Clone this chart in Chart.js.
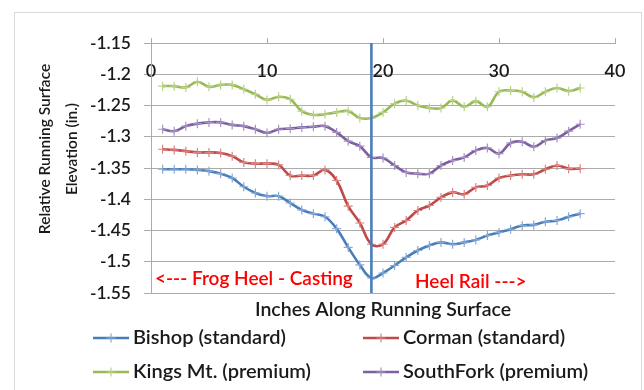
<!DOCTYPE html>
<html>
<head>
<meta charset="utf-8">
<script src="https://cdn.jsdelivr.net/npm/chart.js@4/dist/chart.umd.min.js"></script>
<style>
  html, body { margin: 0; padding: 0; background: #fff; }
  #wrap { position: relative; width: 644px; height: 390px; }
</style>
</head>
<body>
<div id="wrap"><canvas id="chart" width="644" height="390"></canvas></div>
<script>
// inches along running surface (one reading per inch)
var inches = [1, 2, 3, 4, 5, 6, 7, 8, 9, 10, 11, 12, 13, 14, 15, 16, 17, 18, 19,
              20, 21, 22, 23, 24, 25, 26, 27, 28, 29, 30, 31, 32, 33, 34, 35, 36, 37];

var bishop = [-1.352, -1.352, -1.352, -1.353, -1.355, -1.359, -1.366, -1.380, -1.390, -1.395,
              -1.395, -1.406, -1.417, -1.423, -1.428, -1.447, -1.477, -1.505, -1.526, -1.518,
              -1.506, -1.493, -1.482, -1.474, -1.469, -1.472, -1.469, -1.465, -1.458, -1.453,
              -1.448, -1.442, -1.441, -1.436, -1.434, -1.428, -1.423];

var corman = [-1.320, -1.321, -1.323, -1.325, -1.325, -1.326, -1.331, -1.341, -1.343, -1.343,
              -1.345, -1.362, -1.362, -1.362, -1.353, -1.370, -1.411, -1.438, -1.472, -1.472,
              -1.445, -1.434, -1.418, -1.410, -1.397, -1.389, -1.392, -1.381, -1.378, -1.366,
              -1.362, -1.360, -1.360, -1.352, -1.346, -1.351, -1.351];

var kingsMt = [-1.219, -1.219, -1.221, -1.212, -1.220, -1.217, -1.217, -1.224, -1.232, -1.241,
               -1.236, -1.240, -1.259, -1.265, -1.264, -1.261, -1.259, -1.270, -1.270, -1.261,
               -1.247, -1.242, -1.250, -1.254, -1.254, -1.242, -1.252, -1.243, -1.252, -1.228,
               -1.226, -1.228, -1.237, -1.228, -1.222, -1.227, -1.222];

var southFork = [-1.288, -1.291, -1.283, -1.279, -1.277, -1.277, -1.281, -1.283, -1.288, -1.294,
                 -1.288, -1.287, -1.285, -1.284, -1.283, -1.293, -1.307, -1.315, -1.333, -1.334,
                 -1.346, -1.357, -1.359, -1.359, -1.346, -1.338, -1.333, -1.322, -1.318, -1.327,
                 -1.310, -1.308, -1.316, -1.306, -1.302, -1.291, -1.280];

var seriesNames = ["Bishop (standard)", "Corman (standard)", "Kings Mt. (premium)", "SouthFork (premium)"];

// axes
var xMin = 0, xMax = 40, xStep = 10;
var yMin = -1.55, yMax = -1.15, yStep = 0.05;
var dividerX = 19; // frog heel / heel rail joint

var leftNote = "<--- Frog Heel - Casting";
var rightNote = "Heel Rail --->";

var FONT = 'Lato, "Open Sans", sans-serif';
Chart.defaults.font.family = FONT;
Chart.defaults.font.weight = "600";
Chart.defaults.color = "#1a1a1a";

function pts(ys) {
    return inches.map(function (x, i) { return { x: x, y: ys[i] }; });
}

function series(label, ys, color, markColor) {
    return {
        label: label,
        data: pts(ys),
        borderColor: color,
        backgroundColor: color,
        borderWidth: 2.6,
        tension: 0.4,
        pointStyle: "cross",
        pointRadius: 4.5,
        pointBorderWidth: 1.2,
        pointBorderColor: markColor,
        pointHoverRadius: 4.5
    };
}

// border round the whole chart, y title, notes and the legend
var extras = {
    id: "extras",
    beforeDraw: function (chart) {
        var ctx = chart.ctx;
        ctx.save();
        ctx.fillStyle = "#fff";
        ctx.fillRect(0, 0, chart.width, chart.height);
        ctx.strokeStyle = "#d9d9d9";
        ctx.lineWidth = 1;
        ctx.strokeRect(14.5, 12.5, 627, 400);
        ctx.restore();
    },
    afterDraw: function (chart) {
        var ctx = chart.ctx;
        ctx.save();

        // y axis title, two lines
        ctx.translate(58, 149);
        ctx.rotate(-Math.PI / 2);
        ctx.fillStyle = "#1a1a1a";
        ctx.font = "600 15.5px " + FONT;
        ctx.textAlign = "center";
        ctx.textBaseline = "middle";
        ctx.fillText("Relative Running Surface", 0, -13);
        ctx.fillText("Elevation (in.)", 0, 14);
        ctx.restore();

        // red notes
        ctx.save();
        ctx.fillStyle = "#ff0000";
        ctx.font = "600 19px " + FONT;
        ctx.textBaseline = "middle";
        ctx.fillText(leftNote, 155, 279);
        ctx.fillText(rightNote, 415, 282);
        ctx.restore();

        // legend in two columns
        var cols = [93, 363], rows = [338, 372];
        ctx.save();
        ctx.font = "600 20px " + FONT;
        ctx.textBaseline = "middle";
        for (var i = 0; i < 4; i++) {
            var ds = chart.data.datasets[i + 1];
            var x0 = cols[i % 2], y0 = rows[Math.floor(i / 2)];
            ctx.strokeStyle = ds.borderColor;
            ctx.lineWidth = 2.6;
            ctx.beginPath();
            ctx.moveTo(x0, y0);
            ctx.lineTo(x0 + 36, y0);
            ctx.stroke();
            ctx.strokeStyle = ds.pointBorderColor;
            ctx.lineWidth = 1.2;
            ctx.beginPath();
            ctx.moveTo(x0 + 18, y0 - 4.5);
            ctx.lineTo(x0 + 18, y0 + 4.5);
            ctx.moveTo(x0 + 13.5, y0);
            ctx.lineTo(x0 + 22.5, y0);
            ctx.stroke();
            ctx.fillStyle = "#1a1a1a";
            ctx.fillText(ds.label, x0 + 40, y0);
        }
        ctx.restore();
    }
};

var gridColor = "#ababab";

new Chart(document.getElementById("chart"), {
    type: "line",
    data: {
        datasets: [
            {
                label: "divider",
                data: [{ x: dividerX, y: yMax }, { x: dividerX, y: yMin }],
                borderColor: "#4a7ebb",
                borderWidth: 2.6,
                pointRadius: 0,
                tension: 0
            },
            series(seriesNames[0], bishop, "#4a7ebb", "#86a9d8"),
            series(seriesNames[1], corman, "#be4b48", "#d98583"),
            series(seriesNames[2], kingsMt, "#98b954", "#b9d38a"),
            series(seriesNames[3], southFork, "#7d60a0", "#a893c4")
        ]
    },
    options: {
        responsive: false,
        animation: false,
        devicePixelRatio: 1,
        layout: { padding: { left: 0, top: 0, right: 29, bottom: 69 } },
        plugins: {
            legend: { display: false },
            tooltip: { enabled: false }
        },
        scales: {
            x: {
                type: "linear",
                position: "top",
                min: xMin, max: xMax,
                afterFit: function (s) { s.height = 43; },
                ticks: {
                    stepSize: xStep,
                    mirror: true,      // labels sit under the axis line, inside the plot
                    padding: 17,
                    font: { size: 18 },
                    color: "#1a1a1a",
                    maxRotation: 0
                },
                grid: { drawOnChartArea: false, drawTicks: true, tickLength: 5, color: gridColor },
                border: { display: true, color: gridColor }
            },
            x2: {
                type: "linear",
                position: "bottom",
                min: xMin, max: xMax,
                afterFit: function (s) { s.height = 28; },
                ticks: { display: false },
                grid: { display: false },
                border: { display: false },
                title: {
                    display: true,
                    text: "Inches Along Running Surface",
                    font: { size: 19.5 },
                    color: "#1a1a1a",
                    padding: 0
                }
            },
            y: {
                min: yMin, max: yMax,
                afterFit: function (s) { s.width = 151; },
                ticks: {
                    stepSize: yStep,
                    padding: 13,
                    font: { size: 17.5 },
                    color: "#1a1a1a",
                    callback: function (v) { return String(Number(v.toFixed(2))); }
                },
                grid: { color: gridColor, tickLength: 7, drawTicks: true },
                border: { display: true, color: gridColor }
            }
        }
    },
    plugins: [extras]
});
</script>
</body>
</html>
